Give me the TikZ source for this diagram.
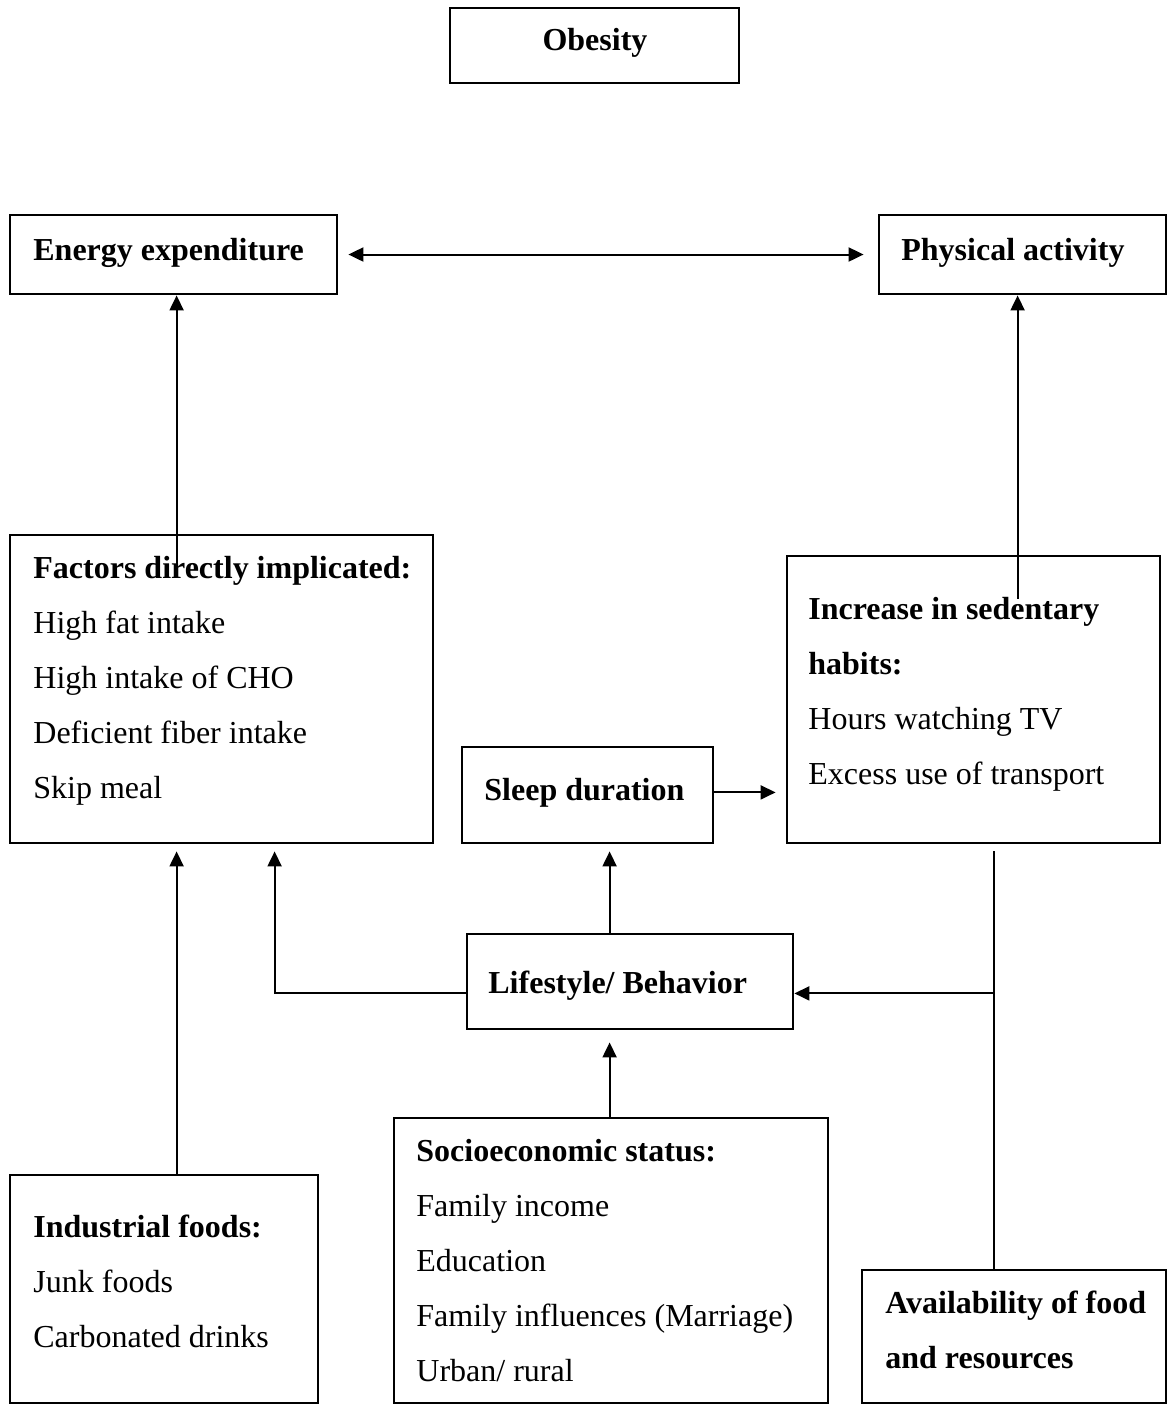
\documentclass[tikz,border=0pt]{standalone}
\usepackage{fontspec}
\setmainfont{Liberation Serif}
\usetikzlibrary{arrows.meta,calc,fit}

\begin{document}
\begin{tikzpicture}[
    %–––– GLOBAL STYLE TWEAKS ––––
    x=0.5pt, y=-0.5pt,                               % pixel grid, y downwards
    font=\fontsize{16pt}{27.5pt}\selectfont,
    >={Triangle[length=7.5pt,width=7pt]},
    box/.style  = {draw=black, line width=1.4pt, inner sep=0pt},
    txt/.style  = {anchor=north west, align=left, inner sep=0pt},
    arrow/.style = {->, line width=1pt},
    link/.style  = {line width=1pt},
]
\useasboundingbox (0,0) rectangle (1168,1405);

%–––– BOXES ––––
\node (obesity)      [box, fit={(450,8)(739,83)}]       {};
\node (energy)       [box, fit={(10,215)(337,294)}]     {};
\node (physical)     [box, fit={(879,215)(1166,294)}]   {};
\node (factors)      [box, fit={(10,535)(433,843)}]     {};
\node (sedentary)    [box, fit={(787,556)(1160,843)}]   {};
\node (sleep)        [box, fit={(462,747)(713,843)}]    {};
\node (lifestyle)    [box, fit={(467,934)(793,1029)}]   {};
\node (industrial)   [box, fit={(10,1175)(318,1403)}]   {};
\node (socio)        [box, fit={(394,1118)(828,1403)}]  {};
\node (availability) [box, fit={(862,1270)(1166,1403)}] {};

%–––– TEXTS ––––
\node (obesity_txt) [anchor=base, inner sep=0pt] at (595,50) {\textbf{Obesity}};
\node (energy_txt)   [txt] at (33,221.5)   {\strut\textbf{Energy expenditure}};
\node (physical_txt) [txt] at (901,221.5)  {\strut\textbf{Physical activity}};
\node (factors_txt)  [txt] at (33,539.5)   {\strut\textbf{Factors directly implicated:}\\
                                            High fat intake\\High intake of CHO\\
                                            Deficient fiber intake\\Skip meal};
\node (sedentary_txt)[txt] at (808,580.5)  {\strut\textbf{Increase in sedentary}\\\textbf{habits:}\\
                                            Hours watching TV\\Excess use of transport};
\node (sleep_txt)    [txt] at (484,761.5)  {\strut\textbf{Sleep duration}};
\node (lifestyle_txt)[txt] at (488,954.5)  {\strut\textbf{Lifestyle/ Behavior}};
\node (socio_txt)    [txt] at (416,1122.5) {\strut\textbf{Socioeconomic status:}\\
                                            Family income\\Education\\
                                            Family influences (Marriage)\\Urban/ rural};
\node (industrial_txt)[txt] at (33,1198.5) {\strut\textbf{Industrial foods:}\\
                                            Junk foods\\Carbonated drinks};
\node (availability_txt)[txt] at (885,1274.5) {\strut\textbf{Availability of food}\\\textbf{and resources}};

%–––– ARROWS ––––
\draw[arrow, <->, shorten <=5pt, shorten >=7pt] (energy.east) -- (physical.west);
\draw[arrow] ($(factors.north west)+(168,40)$) -- ($(energy.south west)+(168,0)$);
\draw[arrow] ($(sedentary.north west)+(232,44)$) -- ($(physical.south west)+(140,0)$);
\draw[arrow, shorten >=5pt] ($(sleep.south east)+(0,-52)$) -- ($(sedentary.south west)+(0,-52)$);
\draw[arrow, shorten >=3.5pt] ($(lifestyle.north west)+(144,0)$) -- ($(sleep.south west)+(149,0)$);
\draw[arrow, shorten >=3.5pt] ($(lifestyle.south west)+(0,-37)$) -| ($(factors.south west)+(266,0)$);
\draw[arrow, shorten >=3.5pt] ($(industrial.north west)+(168,0)$) -- ($(factors.south west)+(168,0)$);
\draw[arrow, shorten >=6pt] ($(socio.north west)+(217,0)$) -- ($(lifestyle.south west)+(144,0)$);

%–––– AVAILABILITY BRANCH ––––
\draw[link] ($(availability.north west)+(133,0)$) -- ($(sedentary.south west)+(208,7)$);
\coordinate (branch) at ($(sedentary.south west)+(208,149)$);
\draw[arrow] (branch) -- (branch -| lifestyle.east);
\end{tikzpicture}
\end{document}
